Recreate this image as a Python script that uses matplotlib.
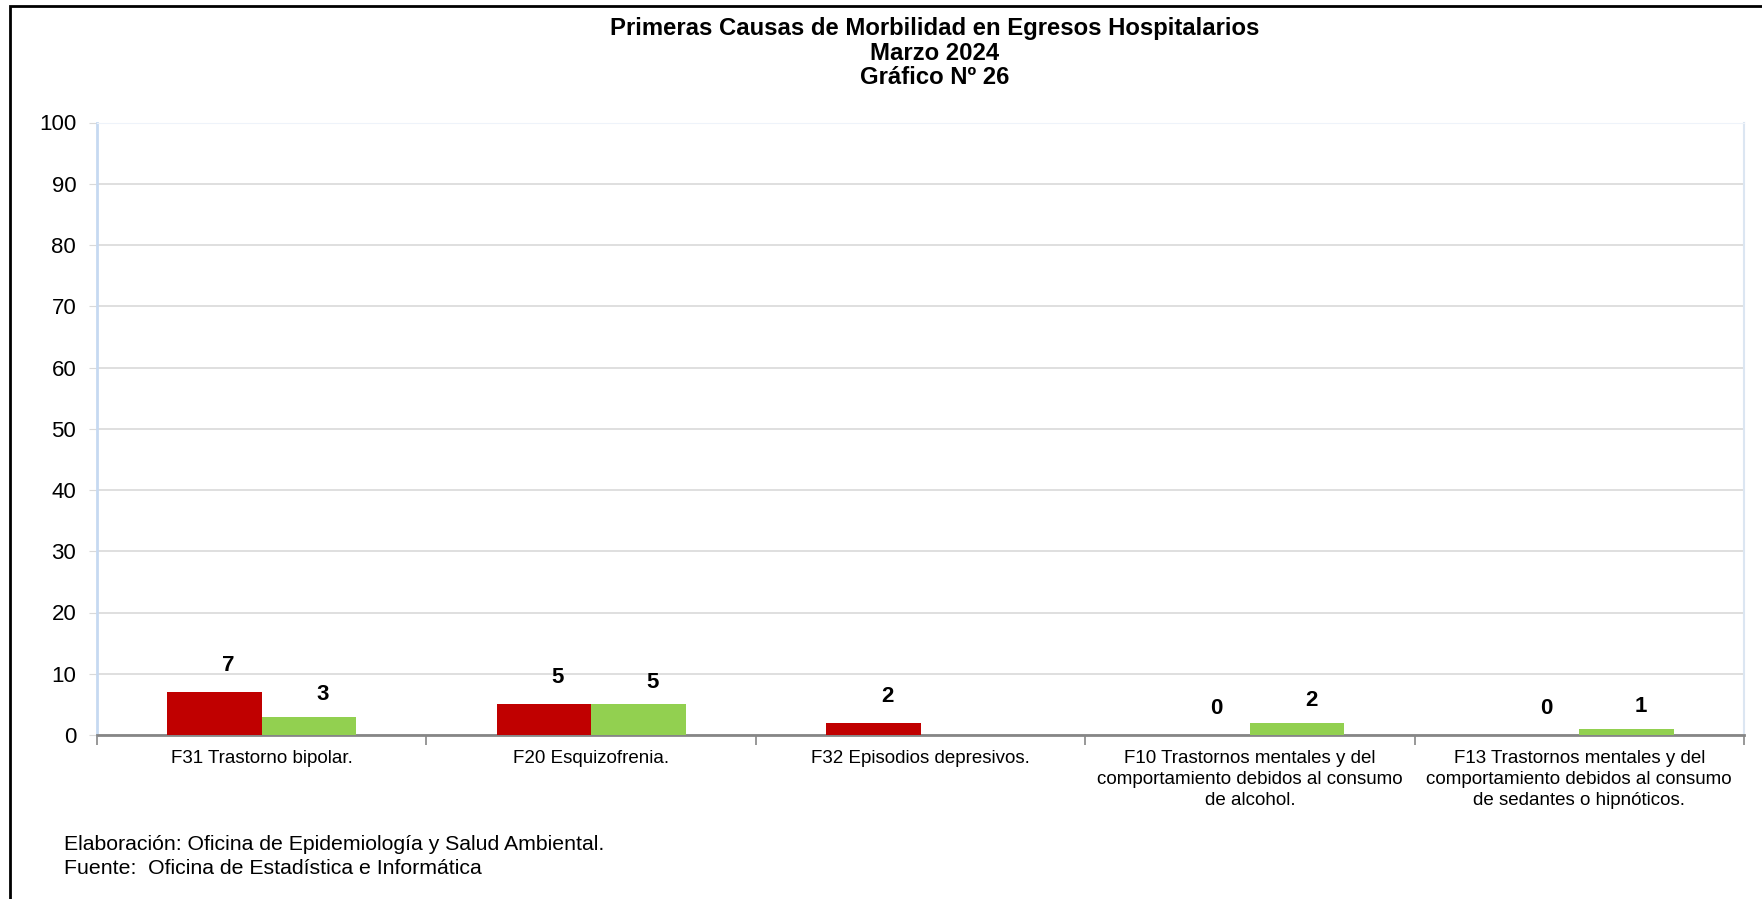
import numpy as np
import matplotlib.pyplot as plt
from matplotlib.patches import Rectangle

plt.rcParams['font.family'] = ['Liberation Sans', 'DejaVu Sans']

# datos
categorias = [
    "F31 Trastorno bipolar.",
    "F20 Esquizofrenia.",
    "F32 Episodios depresivos.",
    "F10 Trastornos mentales y del\ncomportamiento debidos al consumo\nde alcohol.",
    "F13 Trastornos mentales y del\ncomportamiento debidos al consumo\nde sedantes o hipnóticos.",
]
serie_roja = [7, 5, 2, 0, 0]
serie_verde = [3, 5, None, 2, 1]
y_ticks = list(range(0, 101, 10))

titulo = ["Primeras Causas de Morbilidad en Egresos Hospitalarios", "Marzo 2024", "Gráfico Nº 26"]
pie1 = "Elaboración: Oficina de Epidemiología y Salud Ambiental."
pie2 = "Fuente:  Oficina de Estadística e Informática"

W, H = 1762, 899
fig = plt.figure(figsize=(W / 100, H / 100), dpi=100)

# marco exterior
fig.add_artist(Rectangle((10 / W, -0.05), 1.2, 1 - 6 / H + 0.05, transform=fig.transFigure,
                         fill=False, edgecolor="black", linewidth=2))

ax = fig.add_axes([97 / W, 164 / H, 1647 / W, 612.5 / H])

x = np.arange(len(categorias))
w = 0.287
rojo = [np.nan if v is None else v for v in serie_roja]
verde = [np.nan if v is None else v for v in serie_verde]
ax.bar(x - w / 2, rojo, w, color="#C00000", zorder=3)
ax.bar(x + w / 2, verde, w, color="#92D050", zorder=3)

# etiquetas de datos
for xi, v in zip(x, serie_roja):
    if v is not None:
        ax.annotate(str(v), (xi - w / 2, v), xytext=(10, 19), textcoords="offset points",
                    ha="center", va="center", fontsize=16, fontweight="bold")
for xi, v in zip(x, serie_verde):
    if v is not None:
        ax.annotate(str(v), (xi + w / 2, v), xytext=(10, 16), textcoords="offset points",
                    ha="center", va="center", fontsize=16, fontweight="bold")

ax.set_xlim(-0.5, len(categorias) - 0.5)
ax.set_ylim(0, 100)
ax.set_yticks(y_ticks)
ax.yaxis.grid(True, color="#d9d9d9", linewidth=1.2, zorder=0)
ax.set_axisbelow(True)

ax.set_xticks(x)
ax.set_xticklabels(categorias, fontsize=13.5, linespacing=1.3)
ax.tick_params(axis="x", length=0, pad=11)
ax.set_xticks(np.arange(-0.5, len(categorias), 1), minor=True)
ax.tick_params(axis="x", which="minor", length=7, color="#868686", width=1.2)
ax.tick_params(axis="y", length=6, color="#d9d9d9", labelsize=16, pad=9)

ax.spines["bottom"].set_color("#868686")
ax.spines["bottom"].set_linewidth(2)
ax.spines["left"].set_color("#c6d9f1")
ax.spines["left"].set_linewidth(2)
ax.spines["top"].set_color("#eef3fa")
ax.spines["right"].set_color("#dce6f2")
ax.spines["right"].set_linewidth(1.5)

for linea, yc in zip(titulo, [28, 53, 78]):
    fig.text(935 / W, 1 - yc / H, linea, ha="center", va="center", fontsize=17.2,
             fontweight="bold")
fig.text(64 / W, 1 - 844 / H, pie1, ha="left", va="center", fontsize=15.3)
fig.text(64 / W, 1 - 869 / H, pie2, ha="left", va="center", fontsize=15.3)

fig.savefig("out.png", dpi=100)
